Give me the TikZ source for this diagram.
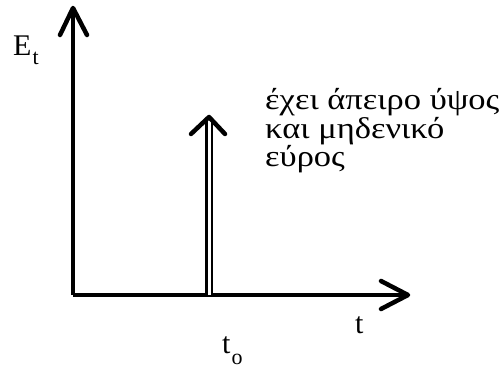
\documentclass[tikz,border=0pt]{standalone}
\usepackage{fontspec}
\setmainfont{Liberation Serif}
\newcommand{\wide}[1]{\scalebox{1.15}[1]{#1}}
\newcommand{\lowsub}[2]{\raisebox{-#1}{\fontsize{22}{22}\selectfont #2}}
\begin{document}
\begin{tikzpicture}[x=1pt,y=1pt,
  axis/.style={line width=3.2pt},
  barb/.style={line width=4.5pt,line join=round,line cap=round},
  lbl/.style={font=\fontsize{30}{30}\selectfont,inner sep=0pt,anchor=base west},
  note/.style={font=\fontsize{30}{27.5}\selectfont,inner sep=0pt,anchor=base west,align=left}]
\useasboundingbox (0,0) rectangle (502,369);
\coordinate (O) at (73,74);
\coordinate (Ytip) at (73,361);
\coordinate (Xtip) at (408,74);
\coordinate (Ibase) at (209,74);
\coordinate (Itip) at (209,252);
% axes
\draw[axis] (O) -- ([yshift=-2]Ytip);
\draw[axis] (O) -- ([xshift=-2]Xtip);
\draw[barb] ([xshift=-13,yshift=-27]Ytip) -- (Ytip) -- ([xshift=14,yshift=-27]Ytip);
\draw[barb] ([xshift=-27,yshift=14]Xtip) -- (Xtip) -- ([xshift=-27,yshift=-14]Xtip);
% impulse
\draw[line width=2.5pt,double distance=3pt] (Ibase) -- ([yshift=-3]Itip);
\draw[barb] ([xshift=-18,yshift=-17]Itip) -- (Itip) -- ([xshift=16,yshift=-17]Itip);
% labels
\node[lbl] (Et) at (13,313) {E\kern1pt\lowsub{9pt}{t}};
\node[lbl] (tl) at (355,36) {t};
\node[lbl] (to) at (222,16) {t\kern1pt\lowsub{11pt}{o}};
\node[note] (n1) at (265,202) {\wide{έχει άπειρο ύψος}\\\wide{και μηδενικό}\\\wide{εύρος}};
\end{tikzpicture}
\end{document}
